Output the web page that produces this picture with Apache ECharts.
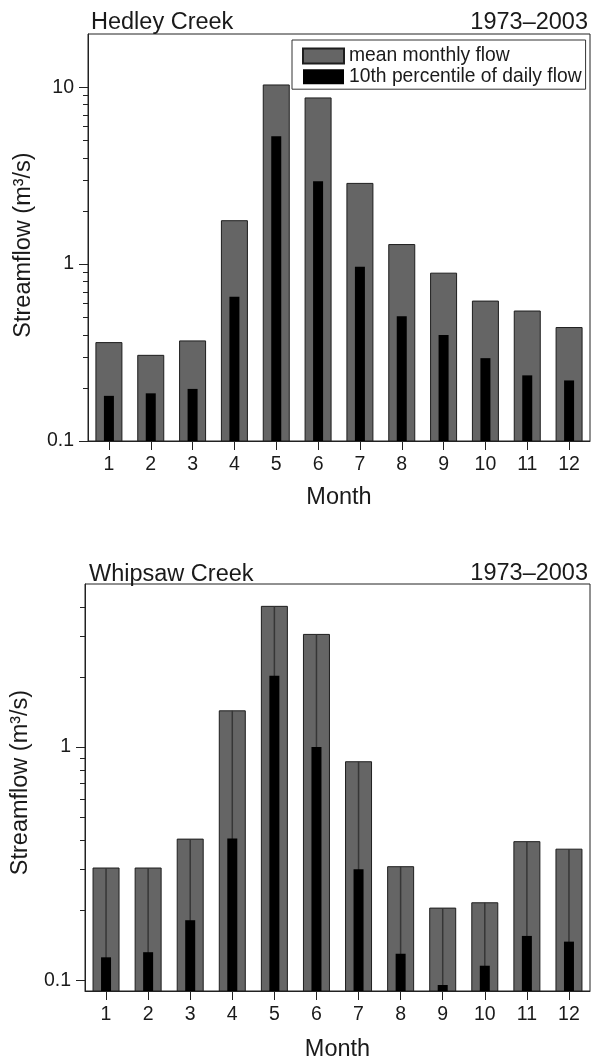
<!DOCTYPE html>
<html>
<head>
<meta charset="utf-8">
<script src="https://cdn.jsdelivr.net/npm/echarts@6/dist/echarts.min.js"></script>
<style>
  html, body { margin: 0; padding: 0; background: #fff; }
  #chart { width: 592px; height: 1059px; }
</style>
</head>
<body>
<div id="chart"></div>
<script>
// Monthly streamflow (m³/s), 1973–2003
const months = ['1', '2', '3', '4', '5', '6', '7', '8', '9', '10', '11', '12'];
const seriesNames = ['mean monthly flow', '10th percentile of daily flow'];

const hedleyMean = [0.36, 0.305, 0.368, 1.76, 10.3, 8.7, 2.86, 1.29, 0.889, 0.618, 0.543, 0.438];
const hedleyP10  = [0.180, 0.186, 0.197, 0.653, 5.29, 2.94, 0.966, 0.508, 0.397, 0.294, 0.235, 0.220];

const whipsawMean = [0.303, 0.303, 0.403, 1.43, 4.01, 3.04, 0.865, 0.307, 0.204, 0.215, 0.393, 0.365];
const whipsawP10  = [0.1255, 0.132, 0.181, 0.405, 2.02, 1.0, 0.299, 0.130, 0.0955, 0.1155, 0.155, 0.1465];

// Log axis ranges and tick values
const hedleyRange = [0.1, 20];
const whipsawRange = [0.09, 5];
const hedleyMajor = [0.1, 1, 10];
const hedleyMinor = [0.2, 0.3, 0.4, 0.5, 0.6, 0.7, 0.8, 0.9, 2, 3, 4, 5, 6, 7, 8, 9];
const whipsawMajor = [0.1, 1];
const whipsawMinor = [0.2, 0.3, 0.4, 0.5, 0.6, 0.7, 0.8, 0.9, 2, 3, 4];

const FONT = 'Liberation Sans, Arial, sans-serif';
const INK = '#1a1a1a';
const GREY = '#656565';
const EDGE = '#1e1e1e';

// Bars on a log axis must start at the axis minimum, so they are drawn as rects
function barRenderer(width, baseValue) {
  return function (params, api) {
    const i = api.value(0);
    const top = api.coord([i, api.value(1)]);
    const base = api.coord([i, baseValue]);
    return {
      type: 'rect',
      shape: { x: top[0] - width / 2, y: top[1], width: width, height: base[1] - top[1] },
      style: api.style()
    };
  };
}

// Short outward ticks at 2..9 within each decade of the log axis
function minorTickRenderer(length) {
  return function (params, api) {
    const y = Math.round(api.coord([0, api.value(1)])[1]) + 0.5;
    const x = params.coordSys.x;
    return {
      type: 'line',
      shape: { x1: x - length, y1: y, x2: x, y2: y },
      style: { stroke: '#222', lineWidth: 1 }
    };
  };
}

function pairs(values) {
  return values.map(function (v, i) { return [i, v]; });
}

function xAxisFor(gridIndex, gap) {
  return {
    gridIndex: gridIndex,
    type: 'category',
    data: months,
    boundaryGap: true,
    axisLine: { show: true, lineStyle: { color: '#222', width: 1 } },
    axisTick: { show: true, alignWithLabel: true, length: 9, lineStyle: { color: '#222' } },
    axisLabel: { interval: 0, margin: 14, fontSize: 19.5, color: INK, fontFamily: FONT },
    splitLine: { show: false },
    name: 'Month',
    nameLocation: 'middle',
    nameGap: gap,
    nameTextStyle: { fontSize: 23.5, color: INK, fontFamily: FONT }
  };
}

function yAxisFor(gridIndex, range, major, pad) {
  return {
    gridIndex: gridIndex,
    type: 'log',
    logBase: 10,
    min: range[0],
    max: range[1],
    position: 'left',
    axisLine: { show: true, lineStyle: { color: '#222', width: 1 } },
    axisTick: { show: true, customValues: major, length: 9, lineStyle: { color: '#222' } },
    axisLabel: { customValues: major, margin: 14, fontSize: 19.5, color: INK, fontFamily: FONT,
                 formatter: function (v) { return String(v); } },
    splitLine: { show: false },
    minorTick: { show: false },
    name: 'Streamflow (m³/s)',
    nameLocation: 'middle',
    nameGap: 52,
    nameTextStyle: { fontSize: 23.5, color: INK, fontFamily: FONT, padding: pad }
  };
}

function barSeries(name, xi, yi, width, base, style, values) {
  return {
    name: name, type: 'custom', xAxisIndex: xi, yAxisIndex: yi, clip: true,
    renderItem: barRenderer(width, base),
    itemStyle: style,
    encode: { x: 0, y: 1 },
    data: pairs(values)
  };
}

function minorTickSeries(name, xi, yi, values) {
  return {
    name: name, type: 'custom', xAxisIndex: xi, yAxisIndex: yi, clip: false, silent: true,
    renderItem: minorTickRenderer(5),
    encode: { x: 0, y: 1 },
    data: values.map(function (v) { return [0, v]; })
  };
}

const titleStyle = { fontSize: 23.5, fontWeight: 'normal', color: INK, fontFamily: FONT };
const meanStyle = { color: GREY, borderColor: EDGE, borderWidth: 1 };
const p10Style = { color: '#000', borderColor: '#000', borderWidth: 0 };

const option = {
  backgroundColor: '#fff',
  animation: false,
  title: [
    { text: 'Hedley Creek', left: 91, top: 11, padding: 0, textStyle: titleStyle },
    { text: '1973–2003', right: 4, top: 11, padding: 0, textStyle: titleStyle },
    { text: 'Whipsaw Creek', left: 89, top: 563, padding: 0, textStyle: titleStyle },
    { text: '1973–2003', right: 4, top: 562, padding: 0, textStyle: titleStyle }
  ],
  legend: {
    orient: 'vertical',
    left: 292,
    top: 40,
    padding: [6, 4, 2.5, 10],
    itemWidth: 41,
    itemHeight: 15,
    itemGap: 0.7,
    borderColor: '#333',
    borderWidth: 1,
    backgroundColor: '#fff',
    selectedMode: false,
    textStyle: { fontSize: 19.3, lineHeight: 20, color: INK, fontFamily: FONT },
    data: [
      { name: seriesNames[0], icon: 'rect' },
      { name: seriesNames[1], icon: 'rect' }
    ]
  },
  grid: [
    { left: 88, right: 2, top: 34, height: 407, show: true, borderColor: '#222', borderWidth: 1,
      backgroundColor: 'transparent', outerBoundsMode: 'none', containLabel: false },
    { left: 85, right: 2, top: 584, height: 407, show: true, borderColor: '#222', borderWidth: 1,
      backgroundColor: 'transparent', outerBoundsMode: 'none', containLabel: false }
  ],
  xAxis: [xAxisFor(0, 45), xAxisFor(1, 47)],
  yAxis: [
    yAxisFor(0, hedleyRange, hedleyMajor, [0, 15, 0, 0]),
    yAxisFor(1, whipsawRange, whipsawMajor, [0, 0, 0, 10])
  ],
  series: [
    barSeries(seriesNames[0], 0, 0, 26, hedleyRange[0], meanStyle, hedleyMean),
    barSeries(seriesNames[1], 0, 0, 10, hedleyRange[0], p10Style, hedleyP10),
    minorTickSeries('Hedley minor ticks', 0, 0, hedleyMinor),

    barSeries('Whipsaw ' + seriesNames[0], 1, 1, 26, whipsawRange[0], meanStyle, whipsawMean),
    // thin centre line running up each mean bar
    barSeries('Whipsaw centre line', 1, 1, 1.5, whipsawRange[0], { color: '#363636', borderWidth: 0 }, whipsawMean),
    barSeries('Whipsaw ' + seriesNames[1], 1, 1, 10, whipsawRange[0], p10Style, whipsawP10),
    minorTickSeries('Whipsaw minor ticks', 1, 1, whipsawMinor)
  ]
};

const chart = echarts.init(document.getElementById('chart'), null, { renderer: 'canvas' });
chart.setOption(option);
</script>
</body>
</html>
